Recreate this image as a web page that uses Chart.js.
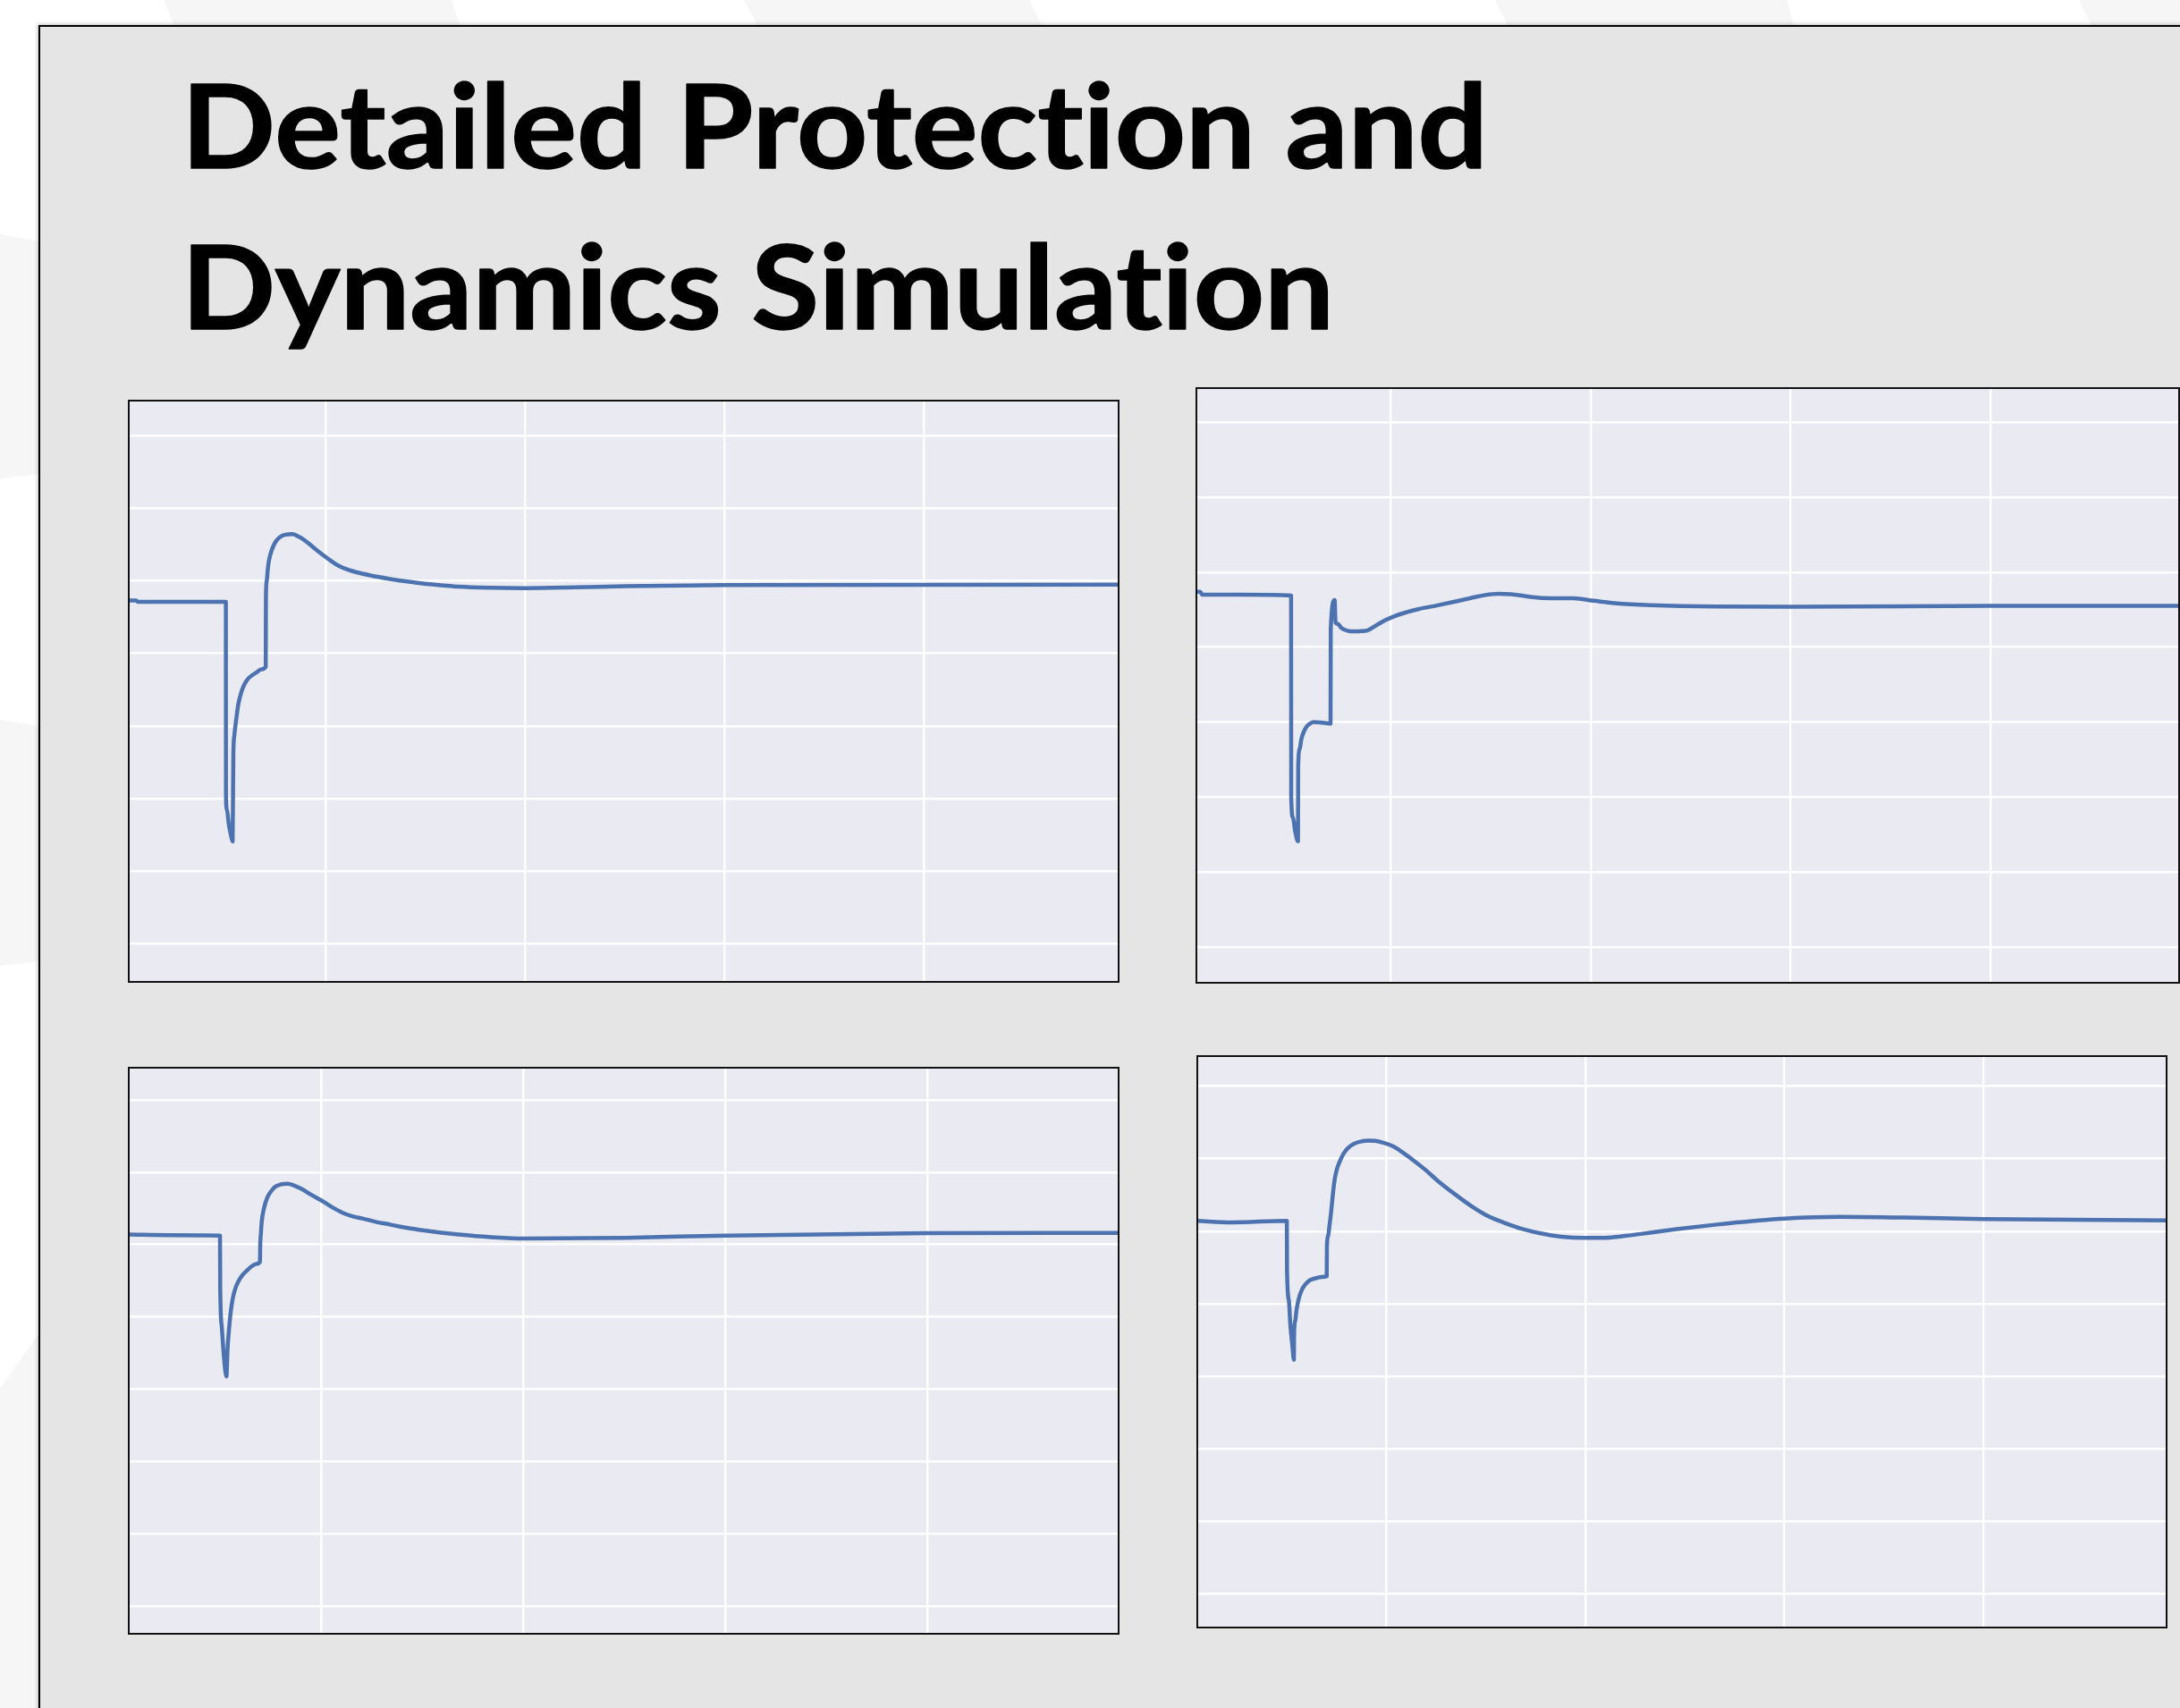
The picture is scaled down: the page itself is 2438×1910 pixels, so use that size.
<!DOCTYPE html>
<html>
<head>
<meta charset="utf-8">
<title>Detailed Protection and Dynamics Simulation</title>
<script src="https://cdn.jsdelivr.net/npm/chart.js@4.4.1/dist/chart.umd.min.js"></script>
<style>
  html, body { margin: 0; padding: 0; background: #fff; width: 2438px; height: 1910px; overflow: hidden; }
  #bg { position: absolute; left: 0; top: 0; }
  #panel {
    position: absolute; left: 43px; top: 28px; width: 2500px; height: 2000px;
    background: #E5E5E5; border-left: 2px solid #000; border-top: 2px solid #000;
    box-shadow: -1px -1px 4px rgba(0, 0, 0, 0.25);
  }
  #title { position: absolute; left: 0; top: 0; }
  #title text {
    font-family: Lato, "Open Sans", sans-serif; font-weight: 700; font-size: 130px;
    fill: #000; stroke: #000; stroke-width: 1.5px; stroke-linejoin: round;
    font-variant-ligatures: none; font-feature-settings: "liga" 0, "clig" 0;
  }
  .plot { position: absolute; background: #EAEAF2; }
  .frame { position: absolute; border: 2px solid #111; box-sizing: border-box; pointer-events: none; }
</style>
</head>
<body>
<svg id="bg" width="2438" height="1910">
  <g fill="#F6F6F6">
    <polygon points="183,0 505,0 515,30 195,30"/>
    <polygon points="832,0 1151,0 1166,30 848,30"/>
    <polygon points="1672,0 1999,0 2006,30 1687,30"/>
    <polygon points="2325,0 2438,0 2438,30 2340,30"/>
    <polygon points="0,262 44,270 44,530 0,535"/>
    <polygon points="0,805 44,812 44,1075 0,1080"/>
    <polygon points="0,1553 44,1490 44,1910 0,1910"/>
  </g>
</svg>
<div id="panel"></div>
<svg id="title" width="2438" height="420">
  <text x="203" y="188" textLength="1461" lengthAdjust="spacingAndGlyphs">Detailed Protection and</text>
  <text x="203" y="368" textLength="1289" lengthAdjust="spacingAndGlyphs">Dynamics Simulation</text>
</svg>
<div id="charts"></div>

<script>
// Simulation traces: time (s) and voltage (pu)
const t1 = [0.026, 0.10, 0.12, 0.5, 1.0, 1.001, 1.01, 1.03, 1.05, 1.068, 1.075, 1.085, 1.103, 1.125, 1.154, 1.185,
            1.222, 1.265, 1.309, 1.355, 1.40, 1.402, 1.41, 1.42, 1.429, 1.45, 1.48, 1.51, 1.549, 1.60, 1.668, 1.72,
            1.789, 1.87, 1.961, 2.05, 2.133, 2.22, 2.304, 2.45, 2.648, 2.82, 2.99, 3.16, 3.334, 3.65, 4.0, 4.5,
            5.013, 6.009, 8.0, 9.955];
const v1 = [0.973, 0.973, 0.971, 0.971, 0.971, 0.705, 0.685, 0.664, 0.650, 0.641, 0.761, 0.787, 0.808, 0.830, 0.846, 0.857,
            0.865, 0.870, 0.874, 0.878, 0.8815, 0.978, 1.000, 1.015, 1.025, 1.038, 1.049, 1.056, 1.061, 1.0637, 1.0645, 1.0615,
            1.056, 1.047, 1.037, 1.028, 1.0206, 1.0155, 1.012, 1.0075, 1.0026, 0.999, 0.996, 0.994, 0.992, 0.9905, 0.990, 0.991,
            0.9926, 0.9942, 0.9945, 0.9947];

const t2 = [0.052, 0.09, 0.11, 0.5, 1.0, 1.001, 1.018, 1.04, 1.069, 1.071, 1.085, 1.104, 1.13, 1.155, 1.19, 1.224,
            1.30, 1.395, 1.397, 1.436, 1.445, 1.47, 1.50, 1.532, 1.58, 1.635, 1.70, 1.755, 1.85, 1.943, 2.03, 2.115,
            2.28, 2.457, 2.63, 2.80, 2.94, 3.073, 3.2, 3.35, 3.484, 3.65, 3.827, 4.03, 4.238, 4.6, 5.259, 6.006,
            8.0, 9.89];
const v2 = [0.974, 0.974, 0.970, 0.970, 0.969, 0.700, 0.673, 0.655, 0.641, 0.7416, 0.764, 0.778, 0.788, 0.794, 0.798, 0.800,
            0.7995, 0.798, 0.9245, 0.963, 0.933, 0.931, 0.926, 0.9235, 0.9215, 0.921, 0.9215, 0.922, 0.929, 0.936, 0.941, 0.945,
            0.951, 0.9556, 0.9605, 0.9656, 0.9695, 0.9714, 0.9706, 0.968, 0.966, 0.9654, 0.9652, 0.962, 0.9588, 0.956, 0.9542, 0.954,
            0.955, 0.9552];

const t3 = [0.097, 0.5, 1.0, 1.002, 1.017, 1.040, 1.064, 1.074, 1.09, 1.108, 1.13, 1.159, 1.19, 1.227, 1.27, 1.312,
            1.355, 1.396, 1.398, 1.405, 1.412, 1.435, 1.464, 1.505, 1.549, 1.60, 1.667, 1.735, 1.803, 1.90, 2.005, 2.105,
            2.209, 2.31, 2.412, 2.55, 2.683, 2.85, 3.021, 3.19, 3.36, 3.68, 4.004, 5.018, 6.004, 7.998, 9.894];
const v3 = [1.0137, 1.013, 1.0124, 0.942, 0.887, 0.8427, 0.8176, 0.8535, 0.884, 0.9088, 0.928, 0.942, 0.951, 0.9585, 0.9645, 0.9696,
            0.973, 0.9761, 0.9972, 1.015, 1.0303, 1.050, 1.0635, 1.0735, 1.0801, 1.083, 1.0839, 1.0815, 1.0772, 1.069, 1.0608, 1.052,
            1.0442, 1.039, 1.0359, 1.031, 1.0276, 1.023, 1.0193, 1.0162, 1.0137, 1.0102, 1.0082, 1.0093, 1.0124, 1.0156, 1.0161];

const t4 = [0.10, 0.445, 1.0, 1.002, 1.02, 1.036, 1.055, 1.071, 1.073, 1.085, 1.098, 1.12, 1.151, 1.185, 1.219, 1.26,
            1.305, 1.35, 1.401, 1.403, 1.415, 1.43, 1.443, 1.46, 1.477, 1.50, 1.529, 1.57, 1.614, 1.68, 1.752, 1.82,
            1.889, 1.97, 2.062, 2.16, 2.268, 2.39, 2.509, 2.68, 2.853, 3.02, 3.197, 3.37, 3.541, 3.76, 3.988, 4.2,
            4.401, 4.65, 4.917, 5.322, 5.7, 6.0, 6.56, 7.2, 8.0, 9.844];
const v4 = [1.0144, 1.0122, 1.0144, 0.9467, 0.905, 0.8697, 0.843, 0.8229, 0.8587, 0.877, 0.8917, 0.907, 0.9192, 0.9265, 0.9313, 0.934,
            0.9358, 0.937, 0.938, 0.9798, 0.9936, 1.009, 1.0238, 1.047, 1.0678, 1.084, 1.0953, 1.107, 1.1147, 1.121, 1.1239, 1.1248,
            1.1245, 1.122, 1.1174, 1.109, 1.0982, 1.085, 1.0705, 1.052, 1.0348, 1.021, 1.0111, 1.003, 0.9974, 0.9925, 0.9908, 0.991,
            0.9936, 0.998, 1.0028, 1.0092, 1.0143, 1.0175, 1.0198, 1.0188, 1.0168, 1.0149];

// grid positions (no labels are shown on the plots)
const xTicks = [2, 4, 6, 8];
const yTicks = [0.5, 0.6, 0.7, 0.8, 0.9, 1.0, 1.1, 1.2];

// visible window of each plot
const xLim = [[0.026, 9.955], [0.052, 9.89], [0.097, 9.894], [0.100, 9.844]];
const yLim = [[0.4474, 1.2483], [0.4522, 1.2457], [0.4618, 1.2444], [0.4538, 1.2414]];

const series = [[t1, v1], [t2, v2], [t3, v3], [t4, v4]];

// where each plot sits on the page
const boxes = [
  { left: 144, top: 448, width: 1107, height: 650 },
  { left: 1338, top: 434, width: 1099, height: 665 },
  { left: 144, top: 1194, width: 1107, height: 633 },
  { left: 1339, top: 1181, width: 1084, height: 639 }
];

const holder = document.getElementById('charts');

function axisOptions(lim, ticks) {
  return {
    type: 'linear',
    min: lim[0],
    max: lim[1],
    ticks: { display: false },
    grid: { color: '#FFFFFF', lineWidth: 2.5, drawTicks: false },
    border: { display: false },
    afterBuildTicks: function (axis) {
      axis.ticks = ticks.map(v => ({ value: v }));
    }
  };
}

series.forEach(function ([times, values], i) {
  const box = boxes[i];

  const canvas = document.createElement('canvas');
  canvas.className = 'plot';
  canvas.width = box.width;
  canvas.height = box.height;
  canvas.style.left = box.left + 'px';
  canvas.style.top = box.top + 'px';
  canvas.style.width = box.width + 'px';
  canvas.style.height = box.height + 'px';
  holder.appendChild(canvas);

  const frame = document.createElement('div');
  frame.className = 'frame';
  frame.style.left = (box.left - 1) + 'px';
  frame.style.top = (box.top - 1) + 'px';
  frame.style.width = (box.width + 2) + 'px';
  frame.style.height = (box.height + 2) + 'px';
  holder.appendChild(frame);

  new Chart(canvas.getContext('2d'), {
    type: 'line',
    data: {
      datasets: [{
        data: times.map((t, k) => ({ x: t, y: values[k] })),
        borderColor: '#4C72B0',
        borderWidth: 4.5,
        borderJoinStyle: 'round',
        borderCapStyle: 'round',
        pointRadius: 0,
        cubicInterpolationMode: 'monotone',
        fill: false
      }]
    },
    options: {
      responsive: false,
      animation: false,
      layout: { padding: 0, autoPadding: false },
      plugins: { legend: { display: false }, tooltip: { enabled: false } },
      scales: {
        x: axisOptions(xLim[i], xTicks),
        y: axisOptions(yLim[i], yTicks)
      }
    }
  });
});
</script>
</body>
</html>
